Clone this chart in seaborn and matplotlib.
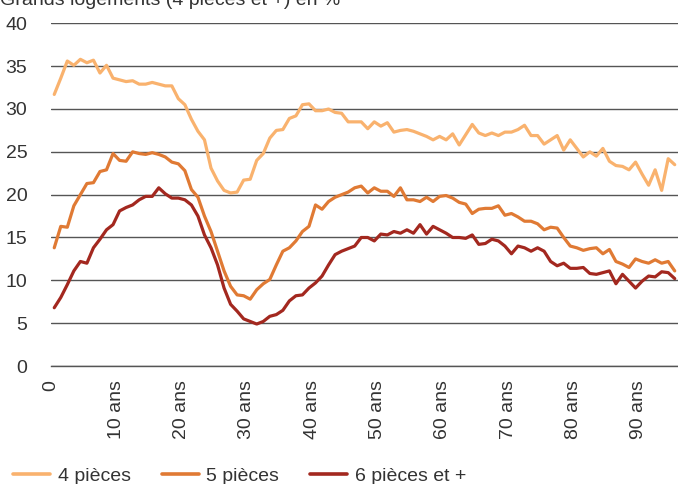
import numpy as np
import pandas as pd
import matplotlib
matplotlib.use("Agg")
import matplotlib.pyplot as plt
import seaborn as sns

# part des grands logements selon l'age (0 a 95 ans)
ages = list(range(96))

p4 = [31.7, 33.6, 35.6, 35.1, 35.8, 35.4, 35.7, 34.2, 35.1, 33.6,
      33.4, 33.2, 33.3, 32.9, 32.9, 33.1, 32.9, 32.7, 32.7, 31.2,
      30.5, 28.8, 27.4, 26.4, 23.1, 21.6, 20.5, 20.2, 20.3, 21.7,
      21.8, 24.0, 24.8, 26.6, 27.5, 27.6, 28.9, 29.2, 30.5, 30.6,
      29.8, 29.8, 30.0, 29.6, 29.5, 28.5, 28.5, 28.5, 27.7, 28.5,
      28.0, 28.4, 27.3, 27.5, 27.6, 27.4, 27.1, 26.8, 26.4, 26.8,
      26.4, 27.1, 25.8, 27.0, 28.2, 27.2, 26.9, 27.2, 26.9, 27.3,
      27.3, 27.6, 28.1, 26.9, 26.9, 25.9, 26.4, 26.9, 25.2, 26.4,
      25.4, 24.4, 25.0, 24.5, 25.4, 23.9, 23.4, 23.3, 22.9, 23.8,
      22.4, 21.1, 22.9, 20.5, 24.2, 23.5]

p5 = [13.8, 16.3, 16.2, 18.7, 20.0, 21.3, 21.4, 22.7, 22.9, 24.8,
      24.0, 23.9, 25.0, 24.8, 24.7, 24.9, 24.7, 24.4, 23.8, 23.6,
      22.8, 20.6, 19.7, 17.5, 15.7, 13.4, 11.1, 9.3, 8.3, 8.2,
      7.8, 8.9, 9.6, 10.1, 11.8, 13.4, 13.8, 14.6, 15.7, 16.3,
      18.8, 18.3, 19.2, 19.7, 20.0, 20.3, 20.8, 21.0, 20.2, 20.8,
      20.4, 20.4, 19.8, 20.8, 19.4, 19.4, 19.2, 19.7, 19.2, 19.8,
      19.9, 19.6, 19.1, 18.9, 17.8, 18.3, 18.4, 18.4, 18.7, 17.6,
      17.8, 17.4, 16.9, 16.9, 16.6, 15.9, 16.2, 16.1, 15.0, 14.0,
      13.8, 13.5, 13.7, 13.8, 13.1, 13.6, 12.2, 11.9, 11.5, 12.5,
      12.2, 12.0, 12.4, 12.0, 12.2, 11.1]

p6 = [6.8, 8.0, 9.5, 11.1, 12.2, 12.0, 13.8, 14.8, 15.9, 16.5,
      18.1, 18.5, 18.8, 19.4, 19.8, 19.8, 20.8, 20.1, 19.6, 19.6,
      19.4, 18.8, 17.5, 15.3, 13.8, 11.8, 9.1, 7.2, 6.4, 5.5,
      5.2, 4.9, 5.2, 5.8, 6.0, 6.5, 7.6, 8.2, 8.3, 9.1,
      9.7, 10.5, 11.8, 13.0, 13.4, 13.7, 14.0, 15.0, 15.0, 14.6,
      15.4, 15.3, 15.7, 15.5, 15.9, 15.5, 16.5, 15.4, 16.3, 15.9,
      15.5, 15.0, 15.0, 14.9, 15.3, 14.2, 14.3, 14.8, 14.6, 14.0,
      13.1, 14.0, 13.8, 13.4, 13.8, 13.4, 12.2, 11.7, 12.0, 11.4,
      11.4, 11.5, 10.8, 10.7, 10.9, 11.1, 9.6, 10.7, 9.9, 9.1,
      9.9, 10.5, 10.4, 11.0, 10.9, 10.2]

series = ["4 pièces", "5 pièces", "6 pièces et +"]
colors = ["#F9B26E", "#E07A34", "#A3281F"]
tick_ages = [0, 10, 20, 30, 40, 50, 60, 70, 80, 90]
tick_labels = ["0"] + [f"{a} ans" for a in tick_ages[1:]]

df = pd.DataFrame({
    "age": ages * 3,
    "part": p4 + p5 + p6,
    "taille": np.repeat(series, len(ages)),
})

sns.set_style("white")
plt.rcParams["font.family"] = ["Liberation Sans", "DejaVu Sans"]

fs = 14

fig = plt.figure(figsize=(6.78, 4.84), dpi=100)
ax = fig.add_axes([0.0752, 0.2438, 0.9248, 0.708])

sns.lineplot(data=df, x="age", y="part", hue="taille", hue_order=series,
             palette=colors, linewidth=2.3, ax=ax, legend=False)

ax.set_xlim(-0.5, 95.5)
ax.set_ylim(0, 40)
ax.set_yticks(range(0, 41, 5))
ax.grid(axis="y", color="#555555", linewidth=1.0)
ax.set_axisbelow(True)
for s in ["top", "right", "left"]:
    ax.spines[s].set_visible(False)
ax.spines["bottom"].set_color("#555555")
ax.spines["bottom"].set_linewidth(1.0)

# graduations entre les categories, comme dans Excel
ax.set_xticks(np.array(tick_ages) - 0.5)
ax.set_xticklabels(tick_labels, rotation=90, va="top", ha="center")
ax.tick_params(axis="x", direction="out", length=6, width=1.0,
               color="#555555", pad=4, labelsize=fs, labelcolor="#333333")
ax.tick_params(axis="y", length=0, pad=17, labelsize=fs, labelcolor="#333333")
ax.set_xlabel("")
ax.set_ylabel("")

fig.text(0.0, 0.9897, "Grands logements (4 pièces et +) en %",
         fontsize=fs, color="#333333", va="baseline", ha="left")

handles = [plt.Line2D([], [], color=c, linewidth=2.6) for c in colors]
fig.legend(handles, series, loc="lower left", bbox_to_anchor=(-0.006, -0.038),
           ncol=3, frameon=False, fontsize=fs, handlelength=1.9,
           handletextpad=0.38, columnspacing=1.6, labelcolor="#333333")

fig.savefig("out.png", dpi=100)
